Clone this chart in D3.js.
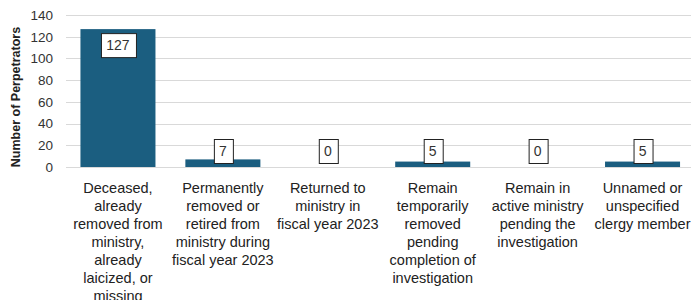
<!DOCTYPE html>
<html>
<head>
<meta charset="utf-8">
<script src="https://cdn.jsdelivr.net/npm/d3@7"></script>
<style>
  html, body { margin: 0; padding: 0; background: #fff; overflow: hidden; }
  svg { display: block; font-family: "Liberation Sans", Arial, sans-serif; }
</style>
</head>
<body>
<svg id="chart"></svg>
<script>
// chart data
const categories = [
    'Deceased,\nalready\nremoved from\nministry,\nalready\nlaicized, or\nmissing',
    'Permanently\nremoved or\nretired from\nministry during\nfiscal year 2023',
    'Returned to\nministry in\nfiscal year 2023',
    'Remain\ntemporarily\nremoved\npending\ncompletion of\ninvestigation',
    'Remain in\nactive ministry\npending the\ninvestigation',
    'Unnamed or\nunspecified\nclergy member'
];
const values = [127, 7, 0, 5, 0, 5];
const yTicks = [0, 20, 40, 60, 80, 100, 120, 140];
const yTitle = 'Number of Perpetrators';

const width = 691;
const height = 300;
const barColor = '#1b5e80';

const svg = d3.select('#chart')
    .attr('width', width)
    .attr('height', height);

// the plot runs a bit past the right edge of the picture
const x = d3.scaleBand()
    .domain(d3.range(categories.length))
    .range([65.5, 695])
    .paddingInner(0.285)
    .paddingOuter(0.1425);

const y = d3.scaleLinear()
    .domain([0, 140])
    .range([167, 15]);

// gridlines
svg.append('g')
    .selectAll('line')
    .data(yTicks)
    .enter().append('line')
    .attr('x1', 66)
    .attr('x2', width)
    .attr('y1', d => Math.round(y(d)) + 0.5)
    .attr('y2', d => Math.round(y(d)) + 0.5)
    .attr('stroke', '#d9d9d9')
    .attr('stroke-width', 1);

// y axis labels
const yAxis = svg.append('g')
    .attr('transform', 'translate(53,0)')
    .call(d3.axisLeft(y).tickValues(yTicks).tickSize(0).tickPadding(0));
yAxis.select('.domain').remove();
yAxis.selectAll('text')
    .attr('font-size', 13.5)
    .attr('font-family', '"Liberation Sans", Arial, sans-serif')
    .attr('fill', '#333');

svg.append('text')
    .attr('transform', 'translate(20,97) rotate(-90)')
    .attr('text-anchor', 'middle')
    .attr('font-size', 12.5)
    .attr('font-weight', 'bold')
    .attr('fill', '#222')
    .text(yTitle);

// bars
svg.append('g')
    .selectAll('rect')
    .data(values)
    .enter().append('rect')
    .attr('x', (d, i) => x(i))
    .attr('width', x.bandwidth())
    .attr('y', d => y(d))
    .attr('height', d => y(0) - y(d))
    .attr('fill', barColor);

// data labels
const labels = svg.append('g')
    .selectAll('g')
    .data(values)
    .enter().append('g')
    .attr('transform', (d, i) => {
        const cy = Math.min(y(d) + 16, y(0) - 16);
        return `translate(${x(i) + x.bandwidth() / 2},${cy})`;
    });

labels.append('text')
    .attr('text-anchor', 'middle')
    .attr('dy', '0.36em')
    .attr('font-size', 14)
    .attr('fill', '#333')
    .text(d => d);

labels.each(function () {
    const g = d3.select(this);
    const bb = g.select('text').node().getBBox();
    g.insert('rect', 'text')
        .attr('x', Math.round(bb.x - 5.5) + 0.5)
        .attr('y', -11.5)
        .attr('width', Math.round(bb.width + 11))
        .attr('height', 24)
        .attr('fill', '#fff')
        .attr('stroke', '#222')
        .attr('stroke-width', 1);
});

// category labels
svg.append('g')
    .selectAll('text')
    .data(categories)
    .enter().append('text')
    .attr('x', (d, i) => x(i) + x.bandwidth() / 2)
    .attr('y', 193)
    .attr('text-anchor', 'middle')
    .attr('font-size', 14.5)
    .attr('fill', '#222')
    .each(function (d) {
        const t = d3.select(this);
        d.split('\n').forEach((line, k) => {
            t.append('tspan')
                .attr('x', t.attr('x'))
                .attr('dy', k === 0 ? 0 : 18)
                .text(line);
        });
    });
</script>
</body>
</html>
